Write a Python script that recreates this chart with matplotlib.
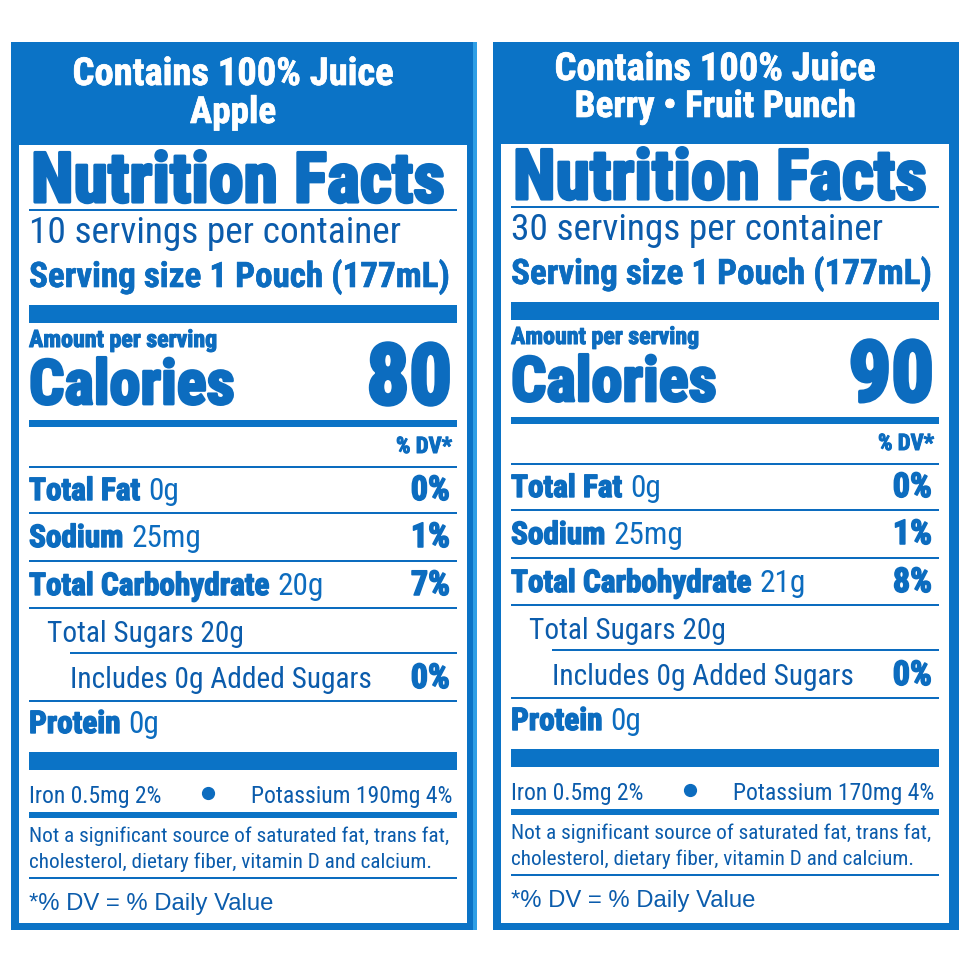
import matplotlib
matplotlib.use("Agg")
import matplotlib.pyplot as plt
import matplotlib.font_manager as fm
import matplotlib.patheffects as pe
from matplotlib.patches import Rectangle

# -------------------------
# Label data (left: Apple, right: Berry Fruit Punch)
# -------------------------
header_top = ["Contains 100% Juice", "Contains 100% Juice"]
flavors = ["Apple", "Berry \u2022 Fruit Punch"]
servings = [10, 30]
serving_size = ["1 Pouch (177mL)", "1 Pouch (177mL)"]
calories = [80, 90]
fat_g = [0, 0]
fat_dv = [0, 0]
sodium_mg = [25, 25]
sodium_dv = [1, 1]
carb_g = [20, 21]
carb_dv = [7, 8]
sugars_g = [20, 20]
added_g = [0, 0]
added_dv = [0, 0]
protein_g = [0, 0]
iron_mg = [0.5, 0.5]
iron_dv = [2, 2]
potassium_mg = [190, 170]
potassium_dv = [4, 4]

# -------------------------
# Fonts
# -------------------------
names = {f.name for f in fm.fontManager.ttflist}
narrow = next((n for n in ["Roboto Condensed", "Liberation Sans Narrow",
                           "Noto Sans Condensed", "Open Sans Condensed",
                           "DejaVu Sans Condensed"] if n in names), None)
stretch = "normal"
if narrow is None:
    for f in fm.fontManager.ttflist:
        if f.name in ("Roboto", "Noto Sans", "Open Sans") and f.stretch in ("condensed", "semi-condensed"):
            narrow, stretch = f.name, "condensed"
            break
if narrow is None:
    narrow = "Roboto" if "Roboto" in names else "Liberation Sans"
plain = "Liberation Sans" if "Liberation Sans" in names else "DejaVu Sans"

HEAD = "#0b73c6"
EDGE = "#2f9fe6"
BOLD = "#0c6cbf"
REG = "#0b5cac"

fig = plt.figure(figsize=(9.7, 9.71), dpi=100)
ax = fig.add_axes([0, 0, 1, 1])
ax.set_xlim(0, 970)
ax.set_ylim(971, 0)
ax.axis("off")
renderer = fig.canvas.get_renderer()

# extra stroke (as fraction of font size) to fake heavier weights
THICK = {"heavy": 0.045, "bold": 0.018, "normal": 0.0}


def measure(s, size, weight, family):
    t = ax.text(0, 0, s, fontsize=size, fontweight=weight, family=family,
                fontstretch=stretch)
    w = t.get_window_extent(renderer).width
    t.remove()
    return w


def run_width(parts, size):
    ws = [measure(s, size, w, f) for s, w, f in parts]
    gap = size * 100 / 72 * 0.24
    return ws, gap, sum(ws) + gap * (len(parts) - 1)


def fit(parts, width):
    return 10 * width / run_width(parts, 10)[2]


def draw_run(x, y, parts, size, color, ha="left"):
    ws, gap, total = run_width(parts, size)
    if ha == "right":
        x -= total
    elif ha == "center":
        x -= total / 2
    for (s, w, f), wd in zip(parts, ws):
        t = ax.text(x, y, s, fontsize=size, fontweight=w, family=f, color=color,
                    fontstretch=stretch, va="baseline", ha="left")
        if THICK.get(w, 0) > 0:
            t.set_path_effects([pe.withStroke(linewidth=size * THICK[w],
                                              foreground=color)])
        x += wd + gap


def bar(x0, x1, y0, y1, color=HEAD):
    ax.add_patch(Rectangle((x0, y0), x1 - x0, y1 - y0, facecolor=color,
                           edgecolor="none"))


B = lambda s: (s, "heavy", narrow)
M = lambda s: (s, "bold", narrow)
R = lambda s: (s, "normal", narrow)

sizes = {}


def put(key, x, y, parts, width, color, ha="left"):
    if key not in sizes:
        sizes[key] = fit(parts, width)
    draw_run(x, y, parts, sizes[key], color, ha)


panel_x = [0, 482]
panel_dy = [0, -3]

for i in range(2):
    ox = panel_x[i]
    dy = panel_dy[i]
    X = lambda v: v + ox
    Y = lambda v: v + dy

    # frame + header
    bar(X(11), X(477), 42, 930)
    if i == 0:
        bar(X(473), X(477), 42, 930, EDGE)
    bar(X(19), X(467), 145 if i == 0 else 144, 923, "white")
    hy = [85, 123] if i == 0 else [80, 117]
    put("head", X(233), hy[0], [M(header_top[i])], 321, "white", "center")
    put("flavor", X(233), hy[1], [M(flavors[i])],
        86 if i == 0 else 280, "white", "center")

    L, Rt = X(29), X(457)
    put("nf", X(31), Y(202), [B("Nutrition Facts")], 413, BOLD)
    bar(L, Rt, Y(209), Y(211), BOLD)
    put("serv", L, Y(243), [R(f"{servings[i]} servings per container")], 370, REG)
    put("size", L, Y(287), [M(f"Serving size {serving_size[i]}")], 422, BOLD)
    bar(L, Rt, Y(305), Y(323))
    put("amt", L, Y(347), [B("Amount per serving")], 188, BOLD)
    put("cal", L, Y(404), [B("Calories")], 206, BOLD)
    put("calv", X(452), Y(404), [B(str(calories[i]))], 85, BOLD, "right")
    bar(L, Rt, Y(420), Y(427))
    put("dvh", X(452), Y(453), [B("% DV*")], 56, BOLD, "right")
    bar(L, Rt, Y(466), Y(468), BOLD)

    put("fat", L, Y(500), [B("Total Fat"), R(f"{fat_g[i]}g")], 149, BOLD)
    put("pct", X(450), Y(500), [B(f"{fat_dv[i]}%")], 39, BOLD, "right")
    bar(L, Rt, Y(512), Y(514), BOLD)
    put("fat", L, Y(547), [B("Sodium"), R(f"{sodium_mg[i]}mg")], 171, BOLD)
    put("pct", X(450), Y(547), [B(f"{sodium_dv[i]}%")], 39, BOLD, "right")
    bar(L, Rt, Y(560), Y(562), BOLD)
    put("fat", L, Y(595), [B("Total Carbohydrate"), R(f"{carb_g[i]}g")], 298, BOLD)
    put("pct", X(450), Y(595), [B(f"{carb_dv[i]}%")], 39, BOLD, "right")
    bar(L, Rt, Y(607), Y(609), BOLD)
    put("sug", X(47), Y(642), [R(f"Total Sugars {sugars_g[i]}g")], 196, REG)
    bar(X(70), Rt, Y(652), Y(654), BOLD)
    put("sug", X(70), Y(688), [R(f"Includes {added_g[i]}g Added Sugars")], 302, REG)
    put("pct", X(450), Y(688), [B(f"{added_dv[i]}%")], 39, BOLD, "right")
    bar(L, Rt, Y(700), Y(702), BOLD)
    put("fat", L, Y(733), [B("Protein"), R(f"{protein_g[i]}g")], 129, BOLD)
    bar(L, Rt, Y(752), Y(770))

    put("min", L, Y(803), [R(f"Iron {iron_mg[i]}mg {iron_dv[i]}%")], 132, REG)
    ax.plot([X(208)], [Y(793)], marker="o", markersize=8.5, color=BOLD)
    put("min", X(452), Y(803),
        [R(f"Potassium {potassium_mg[i]}mg {potassium_dv[i]}%")], 197, REG, "right")
    bar(L, Rt, Y(812), Y(818))
    put("note", L, Y(842),
        [R("Not a significant source of saturated fat, trans fat,")], 417, REG)
    put("note", L, Y(868),
        [R("cholesterol, dietary fiber, vitamin D and calcium.")], 403, REG)
    bar(L, Rt, Y(877), Y(879), BOLD)
    put("foot", L, Y(910), [("*% DV = % Daily Value", "normal", plain)], 245, REG)

fig.savefig("out.png", dpi=100, facecolor="white")
